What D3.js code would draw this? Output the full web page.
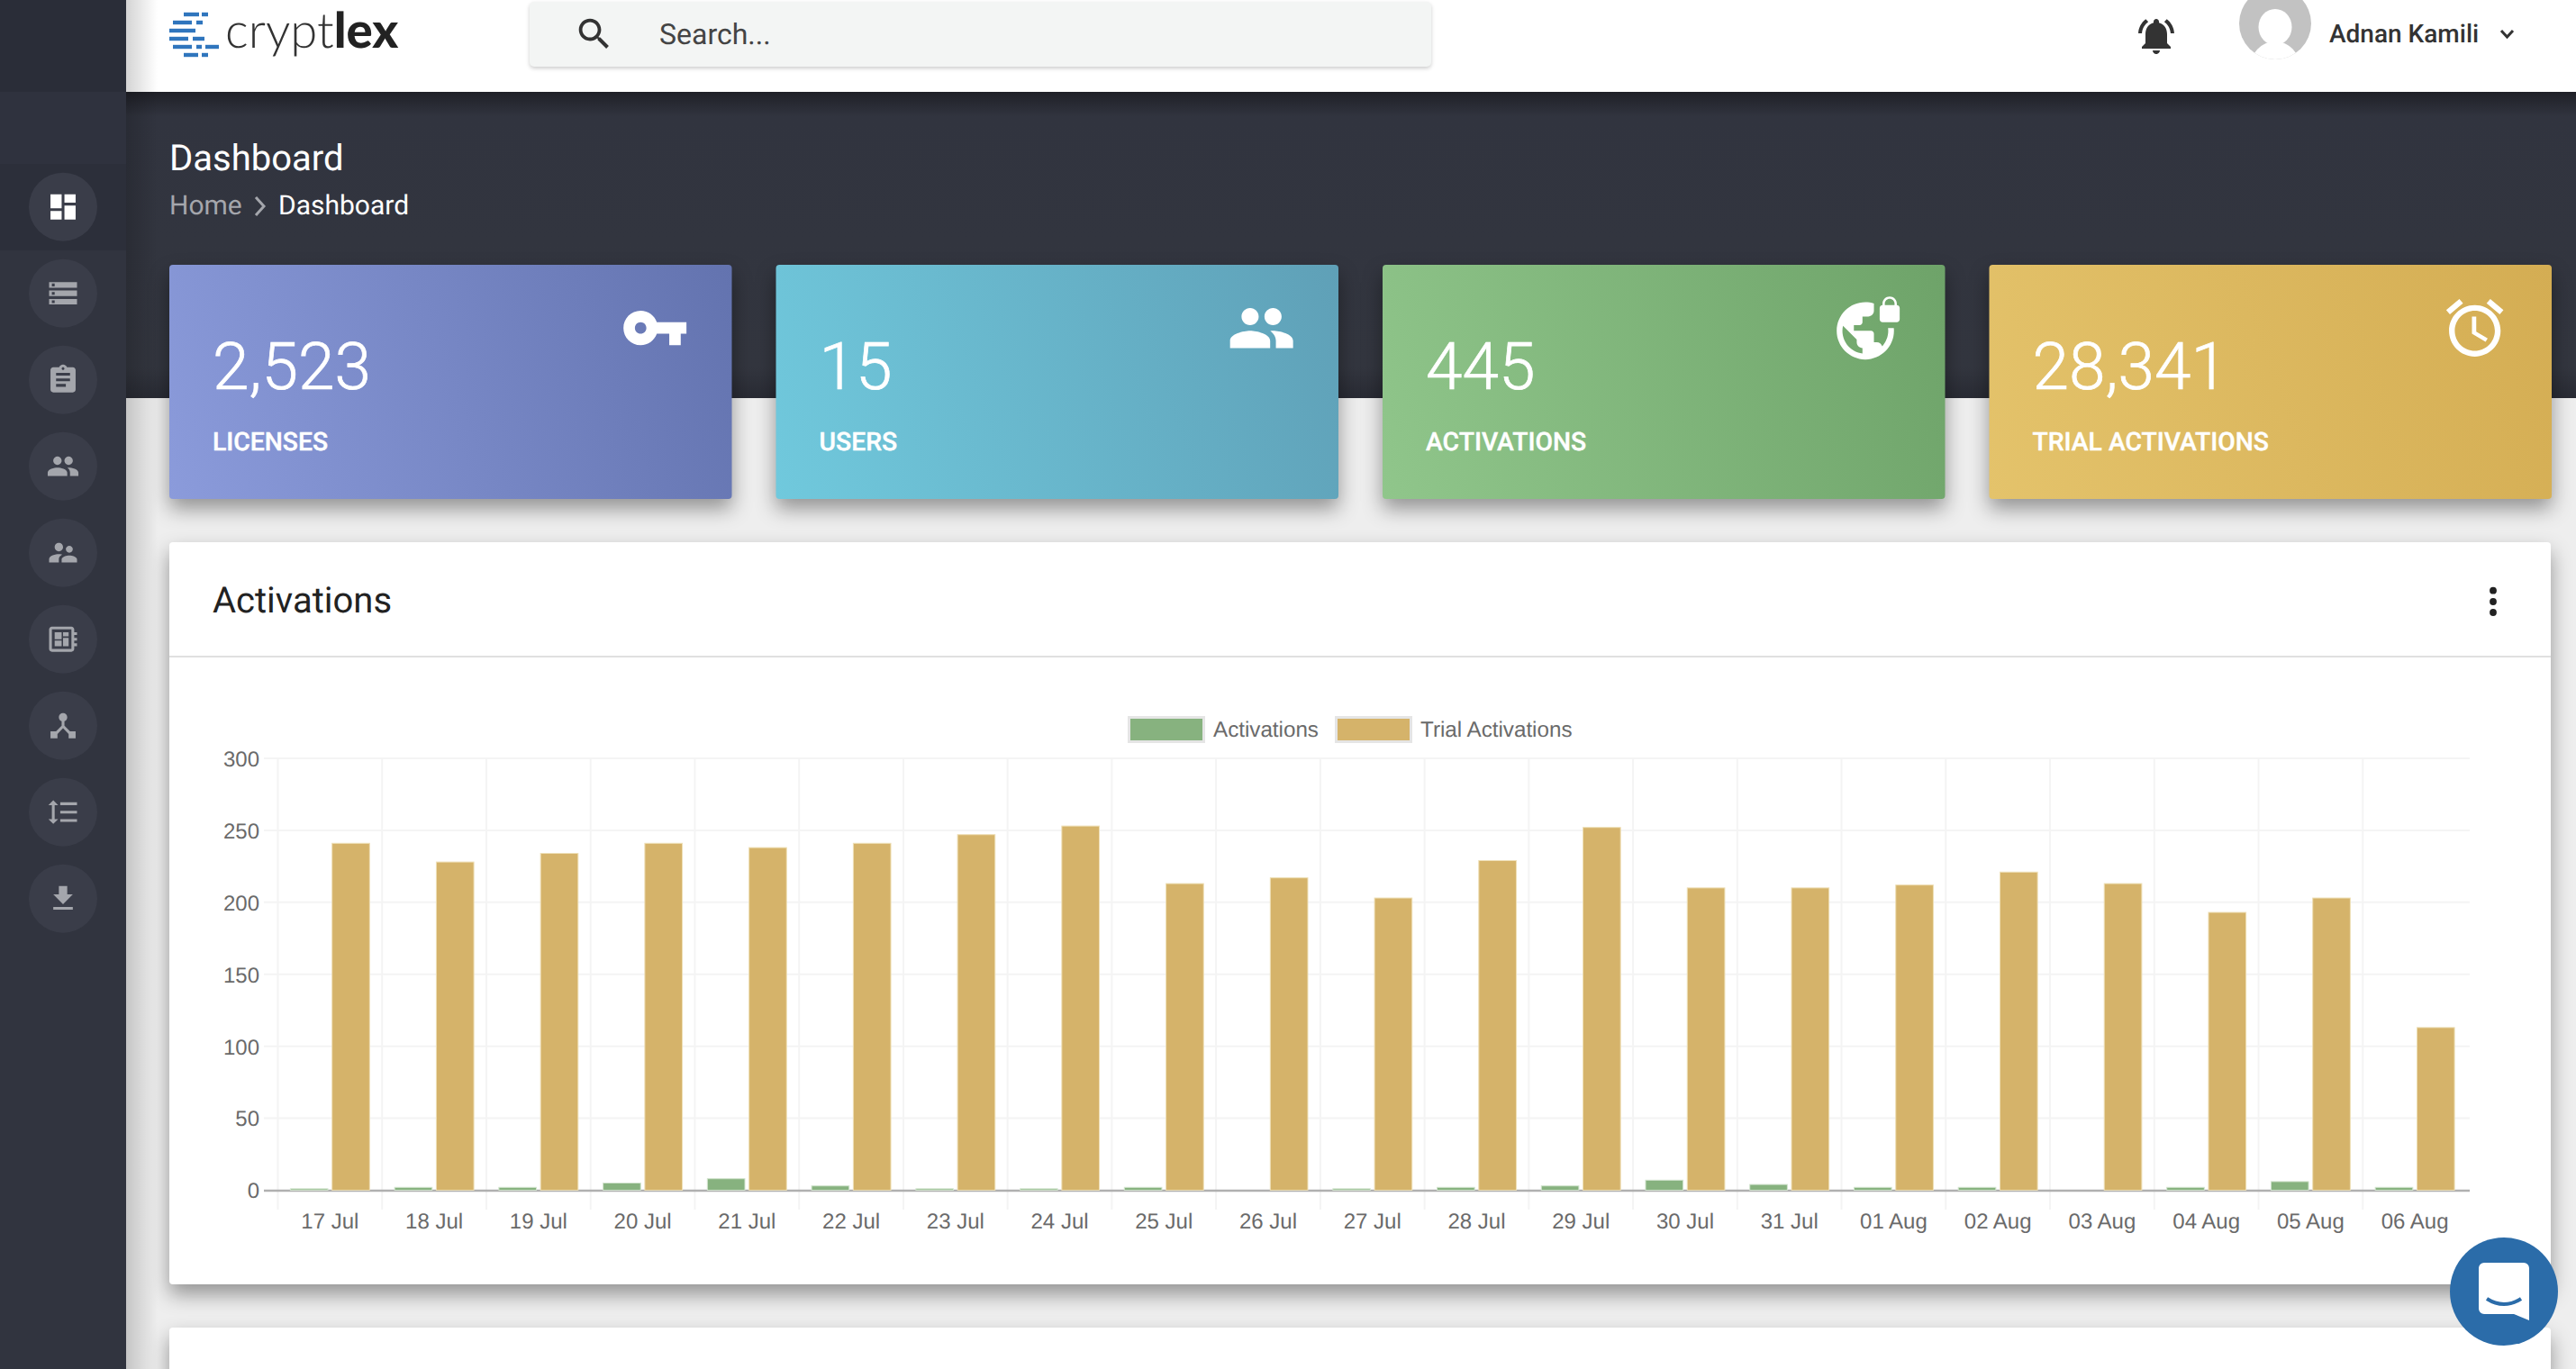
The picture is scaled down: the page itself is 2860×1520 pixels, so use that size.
<!DOCTYPE html>
<html>
<head>
<meta charset="utf-8">
<title>Cryptlex dashboard</title>
<script src="https://cdn.jsdelivr.net/npm/d3@7"></script>
<style>
  html, body { margin: 0; padding: 0; background: #eeeeee; overflow: hidden; }
  svg { display: block; }
  text { font-family: Roboto, sans-serif; text-rendering: geometricPrecision; }
  .chart text { font-family: "Liberation Sans", Arial, sans-serif; fill: #6a6a6a; font-size: 24px; }
  .chart .legend-label { font-size: 24.2px; }
  .raised { filter: drop-shadow(0 11px 11px rgba(0, 0, 0, 0.38)); }
</style>
</head>
<body>
<script>
// chart values
var days = ['17 Jul', '18 Jul', '19 Jul', '20 Jul', '21 Jul', '22 Jul', '23 Jul', '24 Jul', '25 Jul', '26 Jul', '27 Jul',
  '28 Jul', '29 Jul', '30 Jul', '31 Jul', '01 Aug', '02 Aug', '03 Aug', '04 Aug', '05 Aug', '06 Aug'];
var activations = [1, 2, 2, 5, 8, 3, 1, 1, 2, 0, 1, 2, 3, 7, 4, 2, 2, 0, 2, 6, 2];
var trialActivations = [241, 228, 234, 241, 238, 241, 247, 253, 213, 217, 203, 229, 252, 210, 210, 212, 221, 213, 193, 203, 113];
var yTicks = [0, 50, 100, 150, 200, 250, 300];
var seriesNames = ['Activations', 'Trial Activations'];
var seriesColors = ['#87b27f', '#d5b36a'];
var seriesBorders = ['#d3e4cf', '#eedfb6'];

// the four stat cards
var statValues = ['2,523', '15', '445', '28,341'];
var statLabels = ['LICENSES', 'USERS', 'ACTIVATIONS', 'TRIAL ACTIVATIONS'];
var statGradients = [['#8b9bdb', '#6373af'], ['#70c9dd', '#5fa0b7'], ['#90c68b', '#6ea369'], ['#e4c36b', '#d4ad53']];

// material icon outlines
var ICON = {
  dashboard: 'M3 13h8V3H3v10zm0 8h8v-6H3v6zm10 0h8V11h-8v10zm0-18v6h8V3h-8z',
  storage: 'M2 20h20v-4H2v4zm2-3h2v2H4v-2zM2 4v4h20V4H2zm4 3H4V5h2v2zm-4 7h20v-4H2v4zm2-3h2v2H4v-2z',
  assignment: 'M19 3h-4.18C14.4 1.84 13.3 1 12 1c-1.3 0-2.4.84-2.82 2H5c-1.1 0-2 .9-2 2v14c0 1.1.9 2 2 2h14c1.1 0 2-.9 2-2V5c0-1.1-.9-2-2-2zm-7 0c.55 0 1 .45 1 1s-.45 1-1 1-1-.45-1-1 .45-1 1-1zm2 14H7v-2h7v2zm3-4H7v-2h10v2zm0-4H7V7h10v2z',
  people: 'M16 11c1.66 0 2.99-1.34 2.99-3S17.66 5 16 5c-1.66 0-3 1.34-3 3s1.34 3 3 3zm-8 0c1.66 0 2.99-1.34 2.99-3S9.66 5 8 5C6.34 5 5 6.34 5 8s1.34 3 3 3zm0 2c-2.33 0-7 1.17-7 3.5V19h14v-2.5c0-2.33-4.67-3.5-7-3.5zm8 0c-.29 0-.62.02-.97.05 1.16.84 1.97 1.97 1.97 3.45V19h6v-2.5c0-2.33-4.67-3.5-7-3.5z',
  supervisor: 'M16.5 12c1.38 0 2.49-1.12 2.49-2.5S17.88 7 16.5 7C15.12 7 14 8.12 14 9.5s1.12 2.5 2.5 2.5zM9 11c1.66 0 2.99-1.34 2.99-3S10.66 5 9 5C7.34 5 6 6.34 6 8s1.34 3 3 3zm7.5 3c-1.83 0-5.5.92-5.5 2.75V19h11v-2.25c0-1.83-3.67-2.75-5.5-2.75zM9 13c-2.33 0-7 1.17-7 3.5V19h7v-2.25c0-.85.33-2.34 2.37-3.47C10.5 13.1 9.66 13 9 13z',
  board: 'M22 9V7h-2V5c0-1.1-.9-2-2-2H4c-1.1 0-2 .9-2 2v14c0 1.1.9 2 2 2h14c1.1 0 2-.9 2-2v-2h2v-2h-2v-2h2v-2h-2V9h2zm-4 10H4V5h14v14zM6 13h5v4H6zm6-6h4v3h-4zM6 7h5v5H6zm6 4h4v6h-4z',
  hub: 'M17 16l-4-4V8.82C14.16 8.4 15 7.3 15 6c0-1.66-1.34-3-3-3S9 4.34 9 6c0 1.3.84 2.4 2 2.82V12l-4 4H3v5h5v-3.05l4-4.2 4 4.2V21h5v-5h-4z',
  spacing: 'M6 7h2.5L5 3.5 1.5 7H4v10H1.5L5 20.5 8.5 17H6V7zm4-2v2h12V5H10zm0 14h12v-2H10v2zm0-6h12v-2H10v2z',
  download: 'M19 9h-4V3H9v6H5l7 7 7-7zM5 18v2h14v-2H5z',
  search: 'M15.5 14h-.79l-.28-.27C15.41 12.59 16 11.11 16 9.5 16 5.91 13.09 3 9.5 3S3 5.91 3 9.5 5.91 16 9.5 16c1.61 0 3.09-.59 4.23-1.57l.27.28v.79l5 4.99L20.49 19l-4.99-5zm-6 0C7.01 14 5 11.99 5 9.5S7.01 5 9.5 5 14 7.01 14 9.5 11.99 14 9.5 14z',
  bell: 'M7.58 4.08L6.15 2.65C3.75 4.48 2.17 7.3 2.03 10.5h2c.15-2.65 1.51-4.97 3.55-6.42zm12.39 6.42h2c-.15-3.2-1.73-6.02-4.12-7.85l-1.42 1.43c2.02 1.45 3.39 3.77 3.54 6.42zM18 11c0-3.07-1.64-5.64-4.5-6.32V4c0-.83-.67-1.5-1.5-1.5s-1.5.67-1.5 1.5v.68C7.63 5.36 6 7.92 6 11v5l-2 2v1h16v-1l-2-2v-5zm-6 11c.14 0 .27-.01.4-.04.65-.14 1.18-.58 1.44-1.18.1-.24.15-.5.15-.78h-4c.01 1.1.9 2 2.01 2z',
  key: 'M12.65 10C11.83 7.67 9.61 6 7 6c-3.31 0-6 2.69-6 6s2.69 6 6 6c2.61 0 4.83-1.67 5.65-4H17v4h4v-4h2v-4H12.65zM7 14c-1.1 0-2-.9-2-2s.9-2 2-2 2 .9 2 2-.9 2-2 2z',
  vpnLock: 'M22 4v-.5C22 2.12 20.88 1 19.5 1S17 2.12 17 3.5V4c-.55 0-1 .45-1 1v4c0 .55.45 1 1 1h5c.55 0 1-.45 1-1V5c0-.55-.45-1-1-1zm-.8 0h-3.4v-.5c0-.94.76-1.7 1.7-1.7s1.7.76 1.7 1.7V4zm-2.28 8c.04.33.08.66.08 1 0 2.08-.8 3.97-2.1 5.39-.26-.81-1-1.39-1.9-1.39h-1v-3c0-.55-.45-1-1-1H7v-2h2c.55 0 1-.45 1-1V8h2c1.1 0 2-.9 2-2V3.46c-.95-.3-1.95-.46-3-.46C5.48 3 1 7.48 1 13s4.48 10 10 10 10-4.48 10-10c0-.34-.02-.67-.05-1h-2.03zM10 20.93c-3.95-.49-7-3.85-7-7.93 0-.62.08-1.21.21-1.79L8 16v1c0 1.1.9 2 2 2v1.93z',
  alarm: 'M22 5.72l-4.6-3.86-1.29 1.53 4.6 3.86L22 5.72zM7.88 3.39L6.6 1.86 2 5.71l1.29 1.53 4.59-3.85zM12.5 8H11v6l4.75 2.85.75-1.23-4-2.37V8zM12 4c-4.97 0-9 4.03-9 9s4.03 9 9 9 9-4.03 9-9-4.03-9-9-9zm0 16c-3.87 0-7-3.13-7-7s3.13-7 7-7 7 3.13 7 7-3.13 7-7 7z'
};
var sideIcons = ['dashboard', 'storage', 'assignment', 'people', 'supervisor', 'board', 'hub', 'spacing', 'download'];
var statIcons = ['key', 'people', 'vpnLock', 'alarm'];

var svg = d3.select('body').append('svg').attr('width', 2860).attr('height', 1520);
var defs = svg.append('defs');

function icon(parent, name, x, y, scale, fill) {
  return parent.append('path')
      .attr('d', ICON[name])
      .attr('transform', 'translate(' + x + ',' + y + ') scale(' + scale + ')')
      .attr('fill', fill);
}

function label(parent, str, x, y, size, weight, fill) {
  return parent.append('text')
      .attr('x', x)
      .attr('y', y)
      .attr('font-size', size)
      .attr('font-weight', weight)
      .attr('fill', fill)
      .text(str);
}

function gradient(id, x1, y1, x2, y2, stops) {
  var g = defs.append('linearGradient').attr('id', id)
      .attr('gradientUnits', 'userSpaceOnUse')
      .attr('x1', x1).attr('y1', y1).attr('x2', x2).attr('y2', y2);
  stops.forEach(function (s) {
    g.append('stop').attr('offset', s[0]).attr('stop-color', s[1]).attr('stop-opacity', s[2] === undefined ? 1 : s[2]);
  });
}

// page background: dark band behind the title, white header on top
gradient('band', 0, 102, 0, 442, [[0, '#1f2027'], [0.08, '#31343f'], [0.9, '#33363f'], [1, '#292b34']]);
svg.append('rect').attr('x', 140).attr('y', 102).attr('width', 2720).attr('height', 340).attr('fill', 'url(#band)');
svg.append('rect').attr('x', 140).attr('y', 0).attr('width', 2720).attr('height', 102).attr('fill', '#fff');

// title and breadcrumb
label(svg, 'Dashboard', 188, 188.5, 40, 400, '#fff');
label(svg, 'Home', 188, 238, 30, 400, '#a4a6ac');
svg.append('path').attr('d', 'M284 219l9 10-9 10').attr('fill', 'none').attr('stroke', '#a4a6ac').attr('stroke-width', 3);
label(svg, 'Dashboard', 309, 238, 30, 400, '#fff');

// logo
var logoBars = [[204, 221, 16], [224, 231, 16], [192, 213, 25], [218, 225, 25], [188, 217, 34], [188, 209, 43], [214, 227, 43],
  [192, 213, 52], [218, 224, 52], [228, 243, 52], [204, 220, 61], [224, 231, 61]];
svg.append('g').selectAll('rect').data(logoBars).enter().append('rect')
    .attr('x', function (d) { return d[0]; })
    .attr('y', function (d) { return d[2] - 2.2; })
    .attr('width', function (d) { return d[1] - d[0]; })
    .attr('height', 4.4)
    .attr('fill', '#2f75bd');
var logoText = label(svg, 'crypt', 250, 53, 54.5, 300, '#333').style('font-family', 'Lato');
logoText.append('tspan').attr('font-weight', 900).attr('fill', '#222').text('lex');

// search box
svg.append('rect').attr('x', 588).attr('y', 2).attr('width', 1001).attr('height', 72).attr('rx', 5)
    .attr('fill', '#f3f5f4').style('filter', 'drop-shadow(0 2px 2px rgba(0,0,0,0.2))');
icon(svg, 'search', 637, 15, 1.9, '#333');
label(svg, 'Search...', 732, 49, 32, 400, '#444');

// bell, avatar and user name
icon(svg, 'bell', 2370, 16, 2, '#333');
defs.append('clipPath').attr('id', 'avatarClip').append('circle').attr('cx', 2526).attr('cy', 26).attr('r', 40);
var avatar = svg.append('g').attr('clip-path', 'url(#avatarClip)');
avatar.append('rect').attr('x', 2480).attr('y', 0).attr('width', 90).attr('height', 70).attr('fill', '#c2c2c2');
avatar.append('ellipse').attr('cx', 2526).attr('cy', 30).attr('rx', 18.5).attr('ry', 20).attr('fill', '#fff');
avatar.append('ellipse').attr('cx', 2526).attr('cy', 76).attr('rx', 28).attr('ry', 30).attr('fill', '#fff');
label(svg, 'Adnan Kamili', 2586, 47, 28, 500, '#333');
svg.append('path').attr('d', 'M2777 34l6.5 7 6.5-7').attr('fill', 'none').attr('stroke', '#333').attr('stroke-width', 3);

// sidebar
var sideBands = [[0, 102, '#2a2d38'], [102, 80, '#2f323e'], [182, 96, '#2c2f3a'], [278, 1242, '#31343f']];
svg.append('g').selectAll('rect').data(sideBands).enter().append('rect')
    .attr('x', 0)
    .attr('y', function (d) { return d[0]; })
    .attr('width', 140)
    .attr('height', function (d) { return d[1]; })
    .attr('fill', function (d) { return d[2]; });
sideIcons.forEach(function (name, i) {
  var cy = 229.7 + 96 * i;
  svg.append('circle').attr('cx', 70).attr('cy', cy).attr('r', 38).attr('fill', '#3a3d49');
  icon(svg, name, 70 - 12 * 1.55, cy - 12 * 1.55, 1.55, i === 0 ? '#fff' : '#a4a6ac');
});

// soft shadow that the sidebar throws over the page
gradient('sideShadow', 140, 0, 175, 0, [[0, '#000', 0.17], [1, '#000', 0]]);
svg.append('rect').attr('x', 140).attr('y', 0).attr('width', 35).attr('height', 1520).attr('fill', 'url(#sideShadow)');

// stat cards
var cardX = d3.scaleLinear().domain([0, 1]).range([188, 861.5]);
var cardW = 624.5, cardY = 294, cardH = 260, angle = 20 * Math.PI / 180;
statValues.forEach(function (value, i) {
  var x = cardX(i);
  var len = cardW * Math.cos(angle) + cardH * Math.sin(angle);
  gradient('card' + i, x, cardY + cardH,
    x + len * Math.cos(angle), cardY + cardH - len * Math.sin(angle),
    [[0, statGradients[i][0]], [1, statGradients[i][1]]]);
  svg.append('rect').attr('class', 'raised').attr('x', x).attr('y', cardY).attr('width', cardW).attr('height', cardH)
      .attr('rx', 4).attr('fill', 'url(#card' + i + ')');
  label(svg, value, x + 48, 432, 73, 300, '#fff').attr('stroke', '#fff').attr('stroke-width', 0.7);
  label(svg, statLabels[i], x + 48, 500, 28.3, 500, '#fff').attr('stroke', '#fff').attr('stroke-width', 0.4);
  icon(svg, statIcons[i], x + 501, 326, 3.18, '#fff');
});

// the lower, mostly hidden panel and the chart panel
svg.append('rect').attr('class', 'raised').attr('x', 188).attr('y', 1474).attr('width', 2644).attr('height', 80).attr('rx', 4).attr('fill', '#fff');
svg.append('rect').attr('class', 'raised').attr('x', 188).attr('y', 602).attr('width', 2644).attr('height', 824).attr('rx', 4).attr('fill', '#fff');
label(svg, 'Activations', 236, 680, 40, 400, '#222');
svg.append('rect').attr('x', 188).attr('y', 728).attr('width', 2644).attr('height', 2).attr('fill', '#e0e0e0');
[655.7, 668, 680].forEach(function (cy) {
  svg.append('circle').attr('cx', 2768).attr('cy', cy).attr('r', 3.9).attr('fill', '#222');
});

// chart
var chart = svg.append('g').attr('class', 'chart');
var x = d3.scaleBand().domain(days).range([308.5, 2739]);
var y = d3.scaleLinear().domain([0, 300]).range([1321.5, 842]);
// two bars inside 80% of a category, each 90% of its slot
var xSeries = d3.scaleBand().domain(seriesNames).range([x.step() * 0.1, x.step() * 0.9]).paddingInner(0.1).paddingOuter(0.05);

// grid
chart.append('g').selectAll('line').data(yTicks.filter(function (d) { return d > 0; })).enter().append('line')
    .attr('x1', 293).attr('x2', 2742)
    .attr('y1', function (d) { return y(d); })
    .attr('y2', function (d) { return y(d); })
    .attr('stroke', '#f4f4f4').attr('stroke-width', 2);
chart.append('g').selectAll('line').data(days).enter().append('line')
    .attr('x1', function (d) { return x(d); })
    .attr('x2', function (d) { return x(d); })
    .attr('y1', y(300)).attr('y2', 1343)
    .attr('stroke', '#f4f4f4').attr('stroke-width', 2);
chart.append('line').attr('x1', 293).attr('x2', 2742).attr('y1', y(0) + 0.5).attr('y2', y(0) + 0.5)
    .attr('stroke', '#b0b0b0').attr('stroke-width', 2.5);

// axes, labels only: the lines come from the grid above
var yAxis = chart.append('g').attr('transform', 'translate(288,0)')
    .call(d3.axisLeft(y).tickValues(yTicks).tickSize(0).tickPadding(0));
var xAxis = chart.append('g').attr('transform', 'translate(0,1343)')
    .call(d3.axisBottom(x).tickSize(0).tickPadding(0));
yAxis.select('.domain').remove();
xAxis.select('.domain').remove();
yAxis.selectAll('text').attr('dy', '0.35em');
xAxis.selectAll('text').attr('y', 21).attr('dy', 0);

// bars
[activations, trialActivations].forEach(function (values, s) {
  chart.append('g').selectAll('rect').data(values).enter().append('rect')
      .attr('x', function (d, i) { return x(days[i]) + xSeries(seriesNames[s]); })
      .attr('y', function (d) { return y(d); })
      .attr('width', xSeries.bandwidth())
      .attr('height', function (d) { return y(0) - y(d); })
      .attr('fill', seriesColors[s])
      .attr('stroke', function (d) { return d > 0 ? seriesBorders[s] : 'none'; })
      .attr('stroke-width', 1);
});

// legend
var legendX = [1252, 1482];
seriesNames.forEach(function (name, s) {
  chart.append('rect').attr('x', legendX[s] + 1.5).attr('y', 796.5).attr('width', 83).attr('height', 27)
      .attr('fill', seriesColors[s]).attr('stroke', '#e5e5e5').attr('stroke-width', 3);
  chart.append('text').attr('class', 'legend-label').attr('x', legendX[s] + 95).attr('y', 818).text(name);
});

// chat button
svg.append('circle').attr('cx', 2780).attr('cy', 1434).attr('r', 60).attr('fill', '#2b6ca9');
svg.append('path').attr('d', 'M2758 1402h44a6 6 0 0 1 6 6v58l-17-7h-33a6 6 0 0 1-6-6v-45a6 6 0 0 1 6-6z').attr('fill', '#fff');
svg.append('path').attr('d', 'M2761 1442q19 12 38 0').attr('fill', 'none').attr('stroke', '#2b6ca9').attr('stroke-width', 4);
</script>
</body>
</html>
